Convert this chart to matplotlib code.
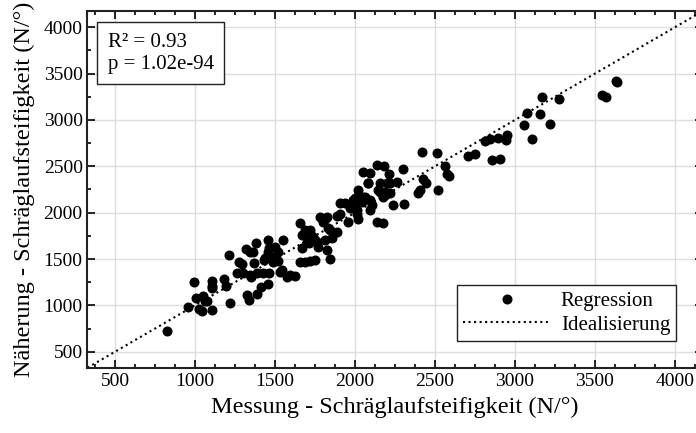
import numpy as np
import matplotlib.pyplot as plt
from matplotlib.ticker import MultipleLocator

plt.rcParams['font.family'] = ['Liberation Serif', 'DejaVu Serif']

# Messwerte und Näherungswerte der Schräglaufsteifigkeit (N/°)
messung = [
    823, 958, 996, 1004, 1025, 1042, 1052, 1062, 1077, 1104,
    1108, 1108, 1104, 1181, 1194, 1219, 1214, 1277, 1292, 1264,
    1302, 1317, 1344, 1379, 1371, 1323, 1339, 1389, 1412, 1454,
    1454, 1462, 1344, 1386, 1427, 1464, 1433, 1475, 1500, 1517,
    1531, 1365, 1437, 1521, 1552, 1490, 1542, 1594, 1625, 1577,
    1656, 1688, 1667, 1719, 1698, 1667, 1750, 1771, 1781, 1823,
    1844, 1812, 1854, 1885, 1823, 1656, 1687, 1719, 1750, 1844,
    1906, 1937, 1906, 1958, 2000, 2010, 2021, 1812, 1885, 1990,
    1979, 2042, 2094, 2062, 2094, 2104, 2015, 2135, 2173, 2177,
    2146, 2188, 2219, 2083, 2156, 2198, 2260, 2048, 2094, 2215,
    2298, 2135, 2183, 2235, 2308, 2417, 2515, 2427, 2444, 2406,
    2396, 2521, 2562, 2573, 2590, 2704, 2750, 2812, 2844, 2896,
    2941, 2952, 2854, 2906, 3056, 3077, 3156, 3108, 3167, 3219,
    3277, 3542, 3569, 3631, 3640, 1350, 1458, 1719, 1740, 1698,
    1714, 1760, 1833, 1969, 2000, 2021, 2052, 2219, 2079, 2156,
    2188, 1802,
]
naeherung = [
    723, 985, 1248, 1082, 960, 938, 1103, 1046, 1046, 950,
    1265, 1211, 1183, 1283, 1208, 1028, 1542, 1470, 1442, 1345,
    1345, 1607, 1571, 1668, 1453, 1111, 1057, 1122, 1200, 1226,
    1704, 1614, 1330, 1349, 1349, 1349, 1488, 1524, 1631, 1477,
    1362, 1578, 1506, 1578, 1704, 1470, 1380, 1327, 1316, 1308,
    1884, 1811, 1757, 1776, 1685, 1614, 1704, 1631, 1948, 1948,
    1811, 1704, 1722, 1793, 1596, 1470, 1470, 1480, 1490, 1496,
    2099, 2099, 1991, 1901, 2153, 2027, 2242, 1927, 1962, 2135,
    2045, 2116, 2135, 2170, 2027, 2081, 1990, 1901, 1884, 2170,
    2242, 2224, 2207, 2315, 2315, 2315, 2332, 2440, 2429, 2415,
    2469, 2512, 2501, 2081, 2092, 2655, 2645, 2368, 2315, 2242,
    2213, 2242, 2498, 2422, 2400, 2609, 2630, 2771, 2792, 2810,
    2781, 2835, 2566, 2577, 2943, 3075, 3061, 2792, 3248, 2961,
    3223, 3266, 3248, 3420, 3410, 1308, 1578, 1811, 1739, 1739,
    1668, 1685, 1840, 2045, 2081, 1937, 2170, 2322, 2315, 2224,
    2189, 1901,
]

achse_min, achse_max = 328, 4175
ideal = [achse_min, achse_max]

fig = plt.figure(figsize=(6.96, 4.33), dpi=100)
ax = fig.add_axes([0.1257, 0.1508, 0.8843, 0.8238])

ax.plot(messung, naeherung, 'o', color='black', markersize=6.2,
        label='Regression', zorder=3)
ax.plot(ideal, ideal, ':', color='black', linewidth=1.5,
        label='Idealisierung', zorder=2)

ax.set_xlim(achse_min, achse_max)
ax.set_ylim(achse_min, achse_max)
ax.xaxis.set_major_locator(MultipleLocator(500))
ax.xaxis.set_minor_locator(MultipleLocator(125))
ax.yaxis.set_major_locator(MultipleLocator(500))
ax.yaxis.set_minor_locator(MultipleLocator(250))
ax.tick_params(which='both', direction='in', top=True, right=True,
               labelsize=14, width=1.2)
ax.tick_params(which='major', length=6)
ax.tick_params(which='minor', length=3)
ax.grid(True, which='major', color='#dddddd', linewidth=1)
ax.set_axisbelow(True)
for s in ax.spines.values():
    s.set_linewidth(1.5)
    s.set_color('#222222')

ax.set_xlabel('Messung - Schräglaufsteifigkeit (N/°)', fontsize=17.5, labelpad=5)
ax.set_ylabel('Näherung - Schräglaufsteifigkeit (N/°)', fontsize=17.5, labelpad=6)

ax.text(0.033, 0.939, 'R² = 0.93\np = 1.02e-94', transform=ax.transAxes,
        fontsize=15, va='top', ha='left', linespacing=1.2,
        bbox=dict(boxstyle='square,pad=0.5', facecolor='white',
                  edgecolor='#222222', linewidth=1))

leg = ax.legend(loc='lower right', bbox_to_anchor=(0.957, 0.075),
                borderaxespad=0, fontsize=15, numpoints=1,
                handlelength=4.2, handletextpad=0.5, fancybox=False,
                framealpha=1, edgecolor='#222222', labelspacing=0.2,
                borderpad=0.3)
leg.get_frame().set_linewidth(1)

fig.savefig('out.png', dpi=100)
